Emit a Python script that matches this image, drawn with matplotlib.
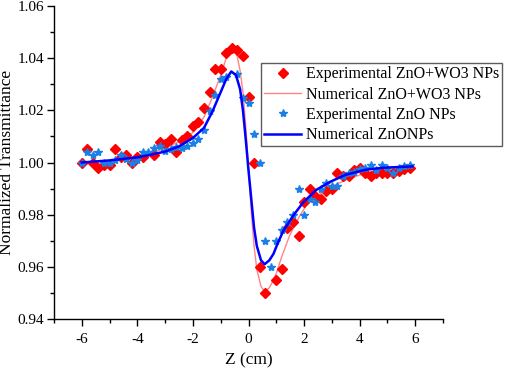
import matplotlib
matplotlib.use("Agg")
import matplotlib.pyplot as plt
from matplotlib.ticker import MultipleLocator, FormatStrFormatter

plt.rcParams['font.family'] = ['Liberation Serif', 'DejaVu Serif']
plt.rcParams['axes.unicode_minus'] = False

# Experimental ZnO+WO3 NPs
z_exp_mix = [-6.0, -5.8, -5.6, -5.4, -5.2, -5.0, -4.8, -4.6, -4.4, -4.2, -4.0, -3.8,
             -3.4, -3.2, -3.0, -2.8, -2.6, -2.4, -2.2, -2.0, -1.8, -1.6, -1.4, -1.2,
             -1.0, -0.8, -0.6, -0.4, -0.2, 0.0, 0.2, 0.4, 0.6, 1.0, 1.2, 1.4, 1.6,
             1.8, 2.0, 2.2, 2.4, 2.6, 2.8, 3.0, 3.2, 3.4, 3.6, 3.8, 4.0, 4.2, 4.4,
             4.6, 4.8, 5.0, 5.2, 5.4, 5.6, 5.8]
t_exp_mix = [1.000, 1.005, 1.000, 0.998, 0.999, 0.999, 1.005, 1.002, 1.003, 1.000, 1.002, 1.002,
             1.003, 1.008, 1.007, 1.009, 1.004, 1.0085, 1.010, 1.014, 1.0155, 1.021, 1.027, 1.036,
             1.036, 1.042, 1.044, 1.043, 1.041, 1.025, 1.000, 0.960, 0.950, 0.955, 0.959, 0.975, 0.977,
             0.972, 0.985, 0.990, 0.987, 0.986, 0.989, 0.990, 0.996, 0.995, 0.995, 0.997, 0.998, 0.996, 0.995,
             0.996, 0.996, 0.996, 0.996, 0.9967, 0.9976, 0.998]

# Numerical ZnO+WO3 NPs
z_num_mix = [-6.0, -5.0, -4.0, -3.5, -3.0, -2.5, -2.0, -1.6, -1.3, -1.0, -0.8, -0.6, -0.45,
             -0.3, -0.2, -0.1, 0.0, 0.1, 0.2, 0.3, 0.45, 0.58, 0.75, 0.9, 1.0, 1.2, 1.48,
             1.84, 2.08, 2.44, 2.86, 3.04, 3.65, 4.25, 4.85, 5.9]
t_num_mix = [1.0000, 1.0008, 1.0022, 1.0035, 1.0055, 1.0080, 1.0115, 1.0175, 1.0250, 1.0335, 1.0400, 1.0443, 1.0430,
             1.0350, 1.0270, 1.0140, 0.9980, 0.9810, 0.9680, 0.9590, 0.9525, 0.9505, 0.9520, 0.9550, 0.9575, 0.9640, 0.9720,
             0.9795, 0.9835, 0.9870, 0.9900, 0.9910, 0.9940, 0.9960, 0.9970, 0.9980]

# Experimental ZnO NPs
z_exp_zno = [-6.0, -5.8, -5.6, -5.4, -5.2, -5.0, -4.8, -4.6, -4.4, -4.2, -4.0, -3.8, -3.6,
             -3.4, -3.2, -3.0, -2.8, -2.6, -2.4, -2.2, -2.0, -1.8, -1.6, -1.4, -1.2, -1.0,
             -0.8, -0.4, -0.2, 0.0, 0.2, 0.4, 0.6, 0.8, 1.0, 1.2, 1.4, 1.6, 1.8, 2.0, 2.2,
             2.4, 2.6, 2.8, 3.0, 3.2, 3.4, 3.6, 3.8, 4.0, 4.2, 4.4, 4.6, 4.8, 5.0, 5.2,
             5.4, 5.6, 5.8]
t_exp_zno = [1.000, 1.004, 1.0027, 1.004, 1.000, 1.000, 1.001, 1.003, 1.0014, 1.000, 1.001, 1.004, 1.004,
             1.0056, 1.0062, 1.0043, 1.005, 1.006, 1.0056, 1.0062, 1.0075, 1.009, 1.0124, 1.0196, 1.026, 1.032,
             1.0328, 1.034, 1.0247, 1.0228, 1.011, 1.000, 0.970, 0.960, 0.970, 0.974, 0.977, 0.980, 0.990, 0.980, 0.986,
             0.985, 0.990, 0.992, 0.991, 0.991, 0.9948, 0.9958, 0.9963, 0.9976, 0.998, 0.9992, 0.9973, 0.9992, 0.998, 0.996,
             0.998, 0.9986, 0.9989]

# Numerical ZnO NPs
z_num_zno = [-6.0, -5.0, -4.0, -3.5, -3.0, -2.5, -2.0, -1.6, -1.3, -1.0, -0.8, -0.62, -0.45,
             -0.3, -0.2, -0.1, 0.0, 0.1, 0.2, 0.3, 0.45, 0.58, 0.75, 0.9, 1.05, 1.25, 1.6,
             1.96, 2.44, 2.92, 3.5, 4.2, 4.85, 5.9]
t_num_zno = [1.0000, 1.0008, 1.0020, 1.0030, 1.0042, 1.0062, 1.0094, 1.0133, 1.0195, 1.0270, 1.0320, 1.0349, 1.0335,
             1.0280, 1.0200, 1.0090, 0.9970, 0.9860, 0.9750, 0.9680, 0.9625, 0.9610, 0.9625, 0.9650, 0.9690, 0.9737, 0.9795,
             0.9846, 0.9895, 0.9925, 0.9953, 0.9972, 0.9980, 0.9985]

labels = ["Experimental ZnO+WO3 NPs", "Numerical ZnO+WO3 NPs",
          "Experimental ZnO NPs", "Numerical ZnONPs"]

fig = plt.figure(figsize=(5.05, 3.70), dpi=100)
ax = fig.add_axes([54/505, 1 - 319/370, (443 - 54)/505, (319 - 6)/370])

ax.plot(z_exp_mix, t_exp_mix, linestyle='none', marker='D', markersize=4.6,
        color='#FF0000', label=labels[0], zorder=3)
ax.plot(z_num_mix, t_num_mix, color='#FF8585', linewidth=1.0, label=labels[1], zorder=2)
ax.plot(z_exp_zno, t_exp_zno, linestyle='none', marker='*', markersize=6,
        color='#1A80E6', label=labels[2], zorder=4)
ax.plot(z_num_zno, t_num_zno, color='#0000FF', linewidth=1.8, label=labels[3], zorder=5)

ax.set_xlim(-7, 7)
ax.set_ylim(0.94, 1.06)
ax.xaxis.set_major_locator(MultipleLocator(2))
ax.xaxis.set_minor_locator(MultipleLocator(1))
ax.yaxis.set_major_locator(MultipleLocator(0.02))
ax.yaxis.set_minor_locator(MultipleLocator(0.01))
ax.yaxis.set_major_formatter(FormatStrFormatter('%.2f'))

ax.spines['top'].set_visible(False)
ax.spines['right'].set_visible(False)
for s in ('left', 'bottom'):
    ax.spines[s].set_linewidth(1.0)
ax.tick_params(which='major', direction='out', length=5, width=1, labelsize=11)
ax.tick_params(which='minor', direction='out', length=3, width=1)
ax.tick_params(axis='x', pad=5)
ax.tick_params(axis='y', pad=2)

ax.set_xlabel("Z (cm)", fontsize=12.5, labelpad=5)
ax.set_ylabel("Normalized Transmittance", fontsize=12.5, labelpad=2)

leg = fig.legend(loc='upper left', bbox_to_anchor=(261/505, 1 - 63/370),
                 fontsize=11.5, numpoints=1, handlelength=2.3, handletextpad=0.3,
                 labelspacing=0.27, borderpad=0.2, borderaxespad=0,
                 frameon=True, fancybox=False)
leg.get_frame().set_edgecolor('#333333')
leg.get_frame().set_linewidth(1.0)

fig.savefig("out.png", dpi=100)
